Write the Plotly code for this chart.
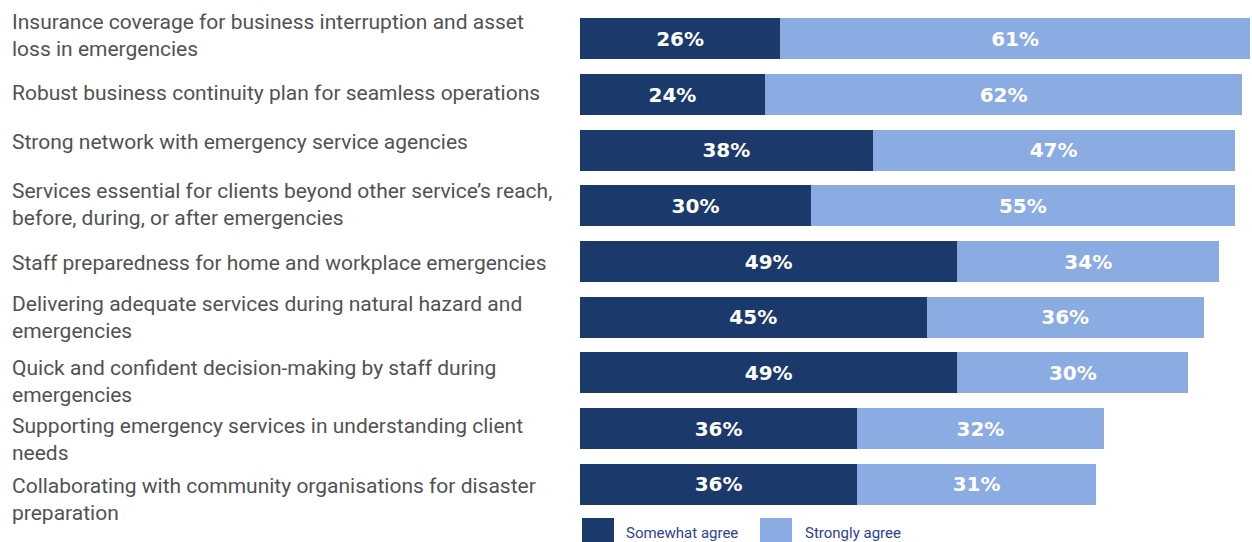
import plotly.graph_objects as go

categories = [
    "Insurance coverage for business interruption and asset<br>loss in emergencies",
    "Robust business continuity plan for seamless operations",
    "Strong network with emergency service agencies",
    "Services essential for clients beyond other service’s reach,<br>before, during, or after emergencies",
    "Staff preparedness for home and workplace emergencies",
    "Delivering adequate services during natural hazard and<br>emergencies",
    "Quick and confident decision-making by staff during<br>emergencies",
    "Supporting emergency services in understanding client<br>needs",
    "Collaborating with community organisations for disaster<br>preparation",
]
somewhat_agree = [26, 24, 38, 30, 49, 45, 49, 36, 36]
strongly_agree = [61, 62, 47, 55, 34, 36, 30, 32, 31]
series_names = ["Somewhat agree", "Strongly agree"]

DARK = "#1B3A6B"
LIGHT = "#8BABE3"
idx = list(range(len(categories)))

fig = go.Figure()
for name, vals, col in [(series_names[0], somewhat_agree, DARK),
                        (series_names[1], strongly_agree, LIGHT)]:
    fig.add_trace(go.Bar(
        y=idx, x=vals, orientation="h", name=name,
        marker=dict(color=col, line=dict(width=0)),
        text=[f"{v}%" for v in vals], textposition="inside",
        insidetextanchor="middle",
        textfont=dict(family="DejaVu Sans, sans-serif", size=20, color="white", weight="bold"),
        width=0.735, showlegend=False, hoverinfo="skip",
    ))

W, H = 1252, 542
L, R, T, B = 580, 2, 11, 30
pw = W - L - R
ph = H - T - B

def px_x(p):
    return (p - L) / pw

def px_y(p):
    return (H - B - p) / ph

label_shift = [3.5, 1.5, 8, 1, -1, 0, -8.5, -10.5, -15]
annotations = []
for i, (c, s) in enumerate(zip(categories, label_shift)):
    annotations.append(dict(
        text=c, xref="paper", x=px_x(10), xanchor="left",
        yref="y", y=i, yanchor="middle", yshift=s, align="left",
        showarrow=False,
        font=dict(family="Roboto, sans-serif", size=21, color="#525252"),
    ))

shapes = []
legend_items = [(series_names[0], DARK, 582, 624), (series_names[1], LIGHT, 760, 803)]
for name, col, x0, tx in legend_items:
    shapes.append(dict(type="rect", xref="paper", yref="paper",
                       x0=px_x(x0), x1=px_x(x0 + 32), y0=px_y(542), y1=px_y(518),
                       fillcolor=col, line=dict(width=0)))
    annotations.append(dict(text=name, xref="paper", x=px_x(tx), xanchor="left",
                            yref="paper", y=px_y(533), yanchor="middle",
                            showarrow=False,
                            font=dict(family="Roboto, sans-serif", size=15, color="#2C4394")))

fig.update_layout(
    width=W, height=H, barmode="stack",
    margin=dict(l=L, r=R, t=T, b=B, pad=0),
    paper_bgcolor="white", plot_bgcolor="white",
    xaxis=dict(range=[0, 87], visible=False, fixedrange=True),
    yaxis=dict(range=[8.5, -0.5], visible=False, fixedrange=True),
    annotations=annotations, shapes=shapes,
    uniformtext=dict(mode=False),
)

fig.write_html("out.html", config={"displayModeBar": False})
